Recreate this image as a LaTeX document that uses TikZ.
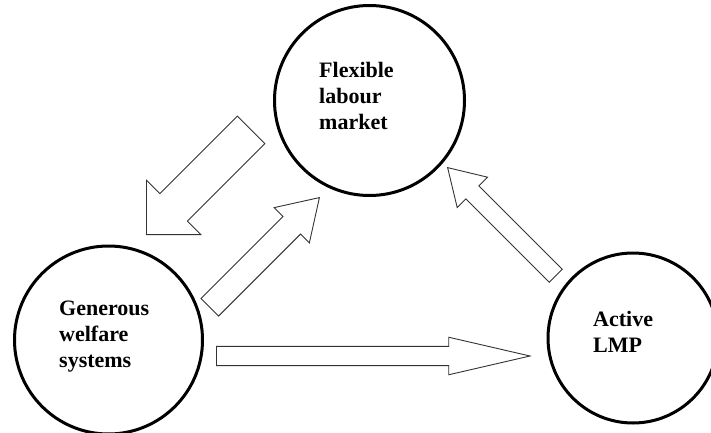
\documentclass[tikz,border=0pt]{standalone}
\usepackage{fontspec}
\setmainfont{Liberation Serif}
\usetikzlibrary{shapes.arrows}

\begin{document}
\begin{tikzpicture}[x=1pt,y=-1pt,
  hub/.style={draw,circle,line width=3pt,inner sep=0pt},
  lbl/.style={font=\fontsize{22}{26}\selectfont\bfseries,align=left,anchor=north west,inner sep=0pt},
  blk/.style={single arrow,draw=black!80,line width=0.9pt,fill=white,inner xsep=0pt,anchor=tip}]
\useasboundingbox (0,0) rectangle (711,433);
\node[hub,minimum size=190pt] (flex) at (369.5,100.5) {};
\node[hub,minimum size=188pt] (gen)  at (108.5,340) {};
\node[hub,minimum size=170pt] (lmp)  at (633,338) {};
\node[lbl] (flext) at (319,62.5)  {Flexible\\labour\\market};
\node[lbl] (gent)  at (59,300.5)  {Generous\\welfare\\systems};
\node[lbl] (lmpt)  at (593,311.5) {Active\\LMP};
\node[blk,rotate=225,inner ysep=19pt,single arrow head extend=19pt,single arrow tip angle=90,minimum height=148pt] (a1) at (146,235) {};
\node[blk,rotate=45,inner ysep=12pt,single arrow head extend=12.5pt,single arrow tip angle=65,minimum height=155pt] (a2) at (320,197) {};
\node[blk,rotate=135,inner ysep=8.75pt,single arrow head extend=12.25pt,single arrow tip angle=63,minimum height=153pt] (a3) at (447,167) {};
\node[blk,inner ysep=9.2pt,single arrow head extend=9.1pt,single arrow tip angle=26,minimum height=313.5pt] (a4) at (532,356) {};
\end{tikzpicture}
\end{document}
